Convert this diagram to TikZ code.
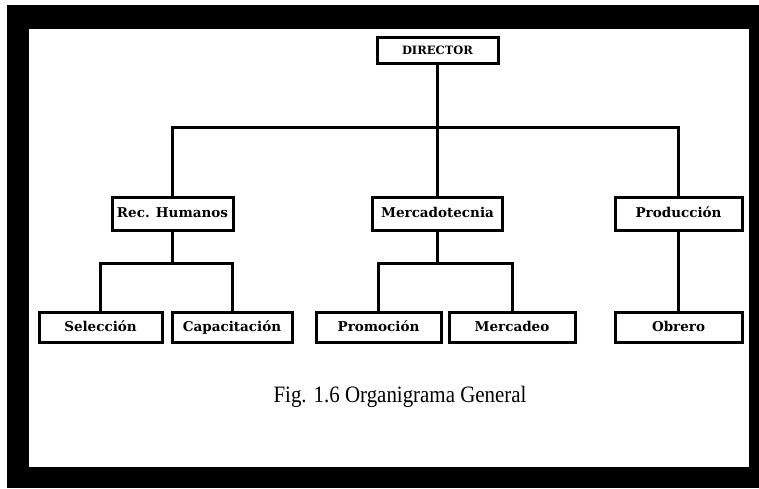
\documentclass[tikz,border=0pt]{standalone}
\usepackage{fontspec}
\usepackage{graphicx}
\setmainfont{Liberation Serif}
\newfontfamily\boxfont{DejaVu Serif}
\begin{document}
\begin{tikzpicture}[x=1pt,y=-1pt,
  unit/.style={draw=black,line width=3pt,fill=white,inner sep=0pt,
    minimum height=#1,text height=10pt,text depth=1.5pt,
    font=\boxfont\bfseries\fontsize{13.5}{15}\selectfont},
  unit/.default=30pt,
  link/.style={line width=3pt,line cap=rect}]
\useasboundingbox (0,0) rectangle (759,488);
% page frame: heavy black border around the white sheet
\fill[white] (0,0) rectangle (759,488);
\fill[black] (7,5) rectangle (759,488);
\fill[white] (29,29) rectangle (749,467);

% top level
\node[unit=26pt,minimum width=121pt,text height=8.5pt,text depth=0pt,
  font=\boxfont\bfseries\fontsize{11.5}{13}\selectfont] (dir) at (437.5,50) {DIRECTOR};

% departments
\node[unit=33pt,minimum width=121pt] (rh)   at (172.5,213.5) {Rec. Humanos};
\node[unit=33pt,minimum width=130pt] (merc) at (437.5,213.5) {Mercadotecnia};
\node[unit=33pt,minimum width=127pt] (prod) at (678.5,213.5) {Producción};

% sections
\node[unit,minimum width=123pt] (sel)  at (100.5,327) {Selección};
\node[unit,minimum width=120pt] (cap)  at (232,327)   {Capacitación};
\node[unit,minimum width=125pt] (prom) at (378.5,327) {Promoción};
\node[unit,minimum width=126pt] (mkt)  at (512,327)   {Mercadeo};
\node[unit,minimum width=127pt] (obr)  at (678.5,327) {Obrero};

% bus levels
\coordinate (bus) at (0,127);
\coordinate (lowbus) at (0,263);

% connectors
\draw[link] (dir.south) -- (merc.north);
\draw[link] (rh.north) -- (rh.north |- bus) -- (prod.north |- bus) -- (prod.north);

\draw[link] (rh.south) -- (rh.south |- lowbus);
\draw[link] (sel.north) -- (sel.north |- lowbus) -- (cap.north |- lowbus) -- (cap.north);

\draw[link] (merc.south) -- (merc.south |- lowbus);
\draw[link] (prom.north) -- (prom.north |- lowbus) -- (mkt.north |- lowbus) -- (mkt.north);

\draw[link] (prod.south) -- (obr.north);

% caption
\node[font=\fontsize{23.5}{26}\selectfont,inner sep=0pt] (cap1) at (400,397)
  {\scalebox{0.89}[1]{Fig. 1.6 Organigrama General}};
\end{tikzpicture}
\end{document}
